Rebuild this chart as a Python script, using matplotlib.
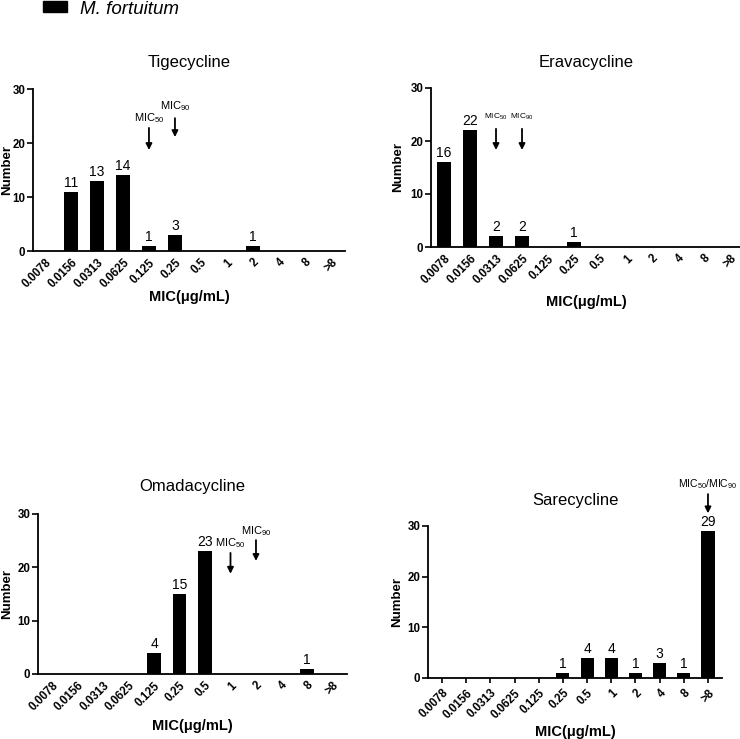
import matplotlib
matplotlib.use('Agg')
import matplotlib.pyplot as plt
import numpy as np
from matplotlib.patches import Patch

plt.rcParams['font.family'] = ['Liberation Sans', 'DejaVu Sans']
plt.rcParams['mathtext.fontset'] = 'custom'
plt.rcParams['mathtext.rm'] = 'Liberation Sans'
plt.rcParams['mathtext.it'] = 'Liberation Sans:italic'
plt.rcParams['mathtext.bf'] = 'Liberation Sans:bold'

mic_labels = ['0.0078', '0.0156', '0.0313', '0.0625', '0.125', '0.25',
              '0.5', '1', '2', '4', '8', '>8']

drugs = ['Tigecycline', 'Eravacycline', 'Omadacycline', 'Sarecycline']
tige_counts = [0, 11, 13, 14, 1, 3, 0, 0, 1, 0, 0, 0]
erava_counts = [16, 22, 2, 2, 0, 1, 0, 0, 0, 0, 0, 0]
omada_counts = [0, 0, 0, 0, 4, 15, 23, 0, 0, 0, 1, 0]
sare_counts = [0, 0, 0, 0, 0, 1, 4, 4, 1, 3, 1, 29]
all_counts = [tige_counts, erava_counts, omada_counts, sare_counts]

# MIC50 / MIC90 category (index into mic_labels)
mic50_idx = [4, 2, 7, 11]
mic90_idx = [5, 3, 8, 11]

fig = plt.figure(figsize=(7.4, 7.39), dpi=100)
W, H = 740, 739

# panel boxes in pixels: left, top, right, bottom, xlim-left, xlim-right
boxes = [
    (33, 89, 345, 251, -0.46, 11.54),
    (431, 88, 742, 247, -0.5, 11.46),
    (38, 514, 347, 674, -0.55, 11.57),
    (428, 526, 722, 678, -0.58, 11.58),
]
xlab_off = [46, 55, 52, 54]
ylab_off = [26, 33, 31, 31]
title_off = [27, 26, 27, 25]

# arrow settings: (text y, tail y, tip y) per marker
arrow_y = [
    [(24.6, 22.8, 18.7), (26.8, 24.6, 21.1)],
    [(24.5, 22.3, 18.3), (24.5, 22.3, 18.3)],
    [(24.6, 22.7, 18.8), (26.8, 25.1, 21.2)],
    [(38.3, 36.3, 32.5)],
]
arrow_fs = [8, 6, 8, 7.5]

x = np.arange(len(mic_labels))
for i, (l, t, r, b, x0, x1) in enumerate(boxes):
    ax = fig.add_axes([l / W, 1 - b / H, (r - l) / W, (b - t) / H])
    counts = all_counts[i]
    ax.bar(x, counts, width=0.54, color='black')
    for xi, c in zip(x, counts):
        if c > 0:
            ax.annotate(str(c), (xi, c), xytext=(0, 1.5), textcoords='offset points',
                        ha='center', va='bottom', fontsize=10)
    ax.set_xlim(x0, x1)
    ax.set_ylim(0, 30)
    ax.set_yticks([0, 10, 20, 30])
    ax.set_xticks(x)
    ax.set_xticklabels(mic_labels, rotation=45, ha='right', va='top',
                       rotation_mode='anchor', fontsize=8.3, fontweight='bold')
    for lab in ax.get_yticklabels():
        lab.set_fontweight('bold')
        lab.set_fontsize(8.3)
    for s in ['top', 'right']:
        ax.spines[s].set_visible(False)
    for s in ['left', 'bottom']:
        ax.spines[s].set_linewidth(1.3)
    ax.tick_params(axis='y', length=4, width=1.2, pad=1.5)
    if i == 3:
        ax.tick_params(axis='x', length=3.5, width=1.2, pad=3)
    else:
        ax.tick_params(axis='x', length=0, pad=4)
    hpx = b - t
    wpx = r - l
    ax.set_xlabel('MIC(μg/mL)', fontsize=10.5, fontweight='bold', va='center')
    ax.xaxis.set_label_coords(0.5, -xlab_off[i] / hpx)
    ax.set_ylabel('Number', fontsize=9.5, fontweight='bold', va='center')
    ax.yaxis.set_label_coords(-ylab_off[i] / wpx, 0.5)
    ax.text(0.5, 1 + title_off[i] / hpx, drugs[i], transform=ax.transAxes,
            ha='center', va='center', fontsize=12)

    if i == 3:
        labels = [r'MIC$_{50}$/MIC$_{90}$']
        idxs = [mic50_idx[i]]
    else:
        labels = [r'MIC$_{50}$', r'MIC$_{90}$']
        idxs = [mic50_idx[i], mic90_idx[i]]
    for lab, xi, (ty, tail, tip) in zip(labels, idxs, arrow_y[i]):
        ax.text(xi, ty, lab, ha='center', va='center', fontsize=arrow_fs[i], clip_on=False)
        ax.annotate('', xy=(xi, tip), xytext=(xi, tail),
                    arrowprops=dict(arrowstyle='-|>', color='black', lw=1.3,
                                    mutation_scale=9, shrinkA=0, shrinkB=0),
                    annotation_clip=False)

fig.legend(handles=[Patch(color='black', label='M. fortuitum')],
           loc='center left', bbox_to_anchor=(43 / W, 1 - 9 / H),
           frameon=False, borderpad=0, borderaxespad=0,
           handlelength=1.28, handleheight=0.53, handletextpad=0.7,
           prop={'size': 13.5, 'style': 'italic'})

fig.savefig('out.png', dpi=100)
